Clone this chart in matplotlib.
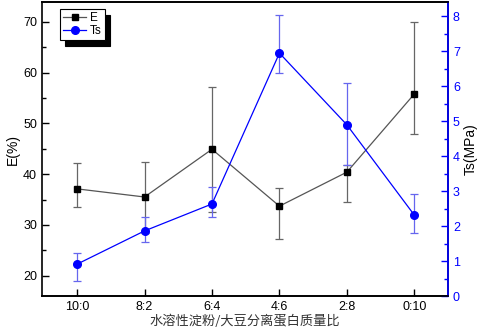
import numpy as np
import matplotlib.pyplot as plt
from matplotlib.ticker import MultipleLocator
from matplotlib.lines import Line2D

plt.rcParams['font.family'] = ['Liberation Sans', 'Noto Sans CJK SC', 'DejaVu Sans']

ratios = ['10:0', '8:2', '6:4', '4:6', '2:8', '0:10']
E = [37.1, 35.5, 44.9, 33.7, 40.4, 55.8]
E_lo = [3.5, 7.0, 12.3, 6.5, 5.9, 7.9]
E_hi = [5.1, 6.9, 12.3, 3.5, 1.4, 14.2]
Ts = [0.91, 1.86, 2.63, 6.94, 4.89, 2.31]
Ts_lo = [0.48, 0.32, 0.37, 0.57, 1.15, 0.51]
Ts_hi = [0.32, 0.40, 0.48, 1.09, 1.20, 0.60]

dpi = 100
fig = plt.figure(figsize=(4.86, 3.35), dpi=dpi)
ax = fig.add_axes([0.0864, 0.1164, 0.8356, 0.8776])
ax2 = ax.twinx()

x = np.arange(len(ratios))
ax.errorbar(x, E, yerr=[E_lo, E_hi], color='#555555', ecolor='#666666',
            lw=0.9, elinewidth=0.9, capsize=3, capthick=0.9,
            marker='s', ms=4.5, mfc='black', mec='black')
ax2.errorbar(x, Ts, yerr=[Ts_lo, Ts_hi], color='#0000ff', ecolor='#6666ee',
             lw=0.9, elinewidth=0.9, capsize=3, capthick=0.9,
             marker='o', ms=5.5, mfc='#0000ff', mec='#0000ff')

ax.set_xlim(-0.52, 5.5)
ax.set_ylim(16, 73.9)
ax2.set_ylim(0, 8.4)
ax.set_xticks(x)
ax.set_xticklabels(ratios)
ax.yaxis.set_major_locator(MultipleLocator(10))
ax.yaxis.set_minor_locator(MultipleLocator(5))
ax2.yaxis.set_major_locator(MultipleLocator(1))
ax2.yaxis.set_minor_locator(MultipleLocator(0.5))

ax.tick_params(axis='both', which='major', direction='in', length=5, width=1, labelsize=9)
ax.tick_params(axis='y', which='minor', direction='in', length=3, width=1)
ax.tick_params(axis='x', which='both', top=False)
ax2.tick_params(axis='y', which='major', direction='in', length=5, width=1,
                colors='#0000ff', labelsize=9)
ax2.tick_params(axis='y', which='minor', direction='in', length=3, width=1, colors='#0000ff')

for s in ax.spines.values():
    s.set_linewidth(1.2)
for s in ax2.spines.values():
    s.set_linewidth(1.2)
ax2.spines['right'].set_color('#0000ff')
ax2.spines['left'].set_visible(False)

ax.set_ylabel('E(%)', fontsize=10, labelpad=2)
ax2.set_ylabel('Ts(MPa)', fontsize=10, labelpad=3)
ax.set_xlabel('水溶性淀粉/大豆分离蛋白质量比', fontsize=9.5, labelpad=1,
              family=['Noto Sans CJK SC', 'DejaVu Sans'], color='#333333')

h1 = Line2D([], [], color='#555555', lw=0.9, marker='s', ms=4.5, mfc='black', mec='black')
h2 = Line2D([], [], color='#0000ff', lw=0.9, marker='o', ms=5.5, mfc='#0000ff', mec='#0000ff')
leg = ax.legend([h1, h2], ['E', 'Ts'], loc='upper left', bbox_to_anchor=(0.044, 0.975),
                fontsize=8.5, frameon=True, fancybox=False,
                shadow={'ox': 4, 'oy': -4, 'color': 'black', 'alpha': 1},
                handlelength=2.0, handletextpad=0.3, borderpad=0.25,
                labelspacing=0.1, borderaxespad=0)
leg.get_frame().set_edgecolor('black')
leg.get_frame().set_linewidth(0.8)

fig.savefig('out.png', dpi=dpi)
